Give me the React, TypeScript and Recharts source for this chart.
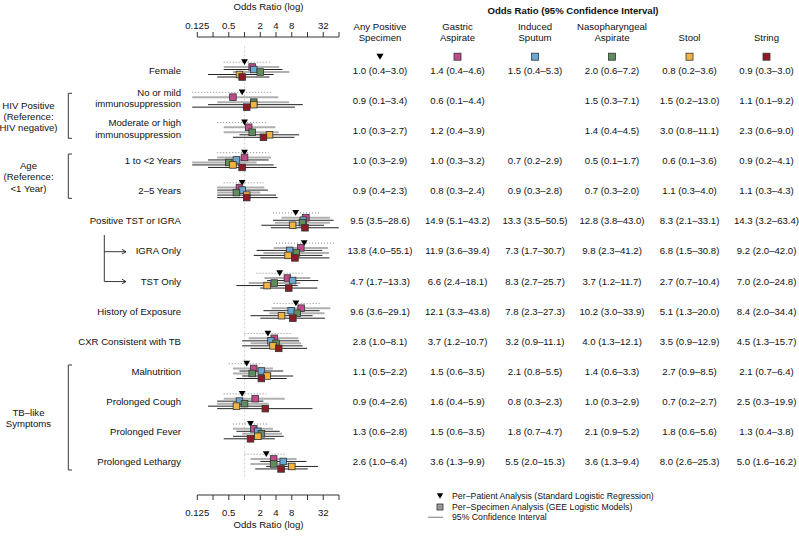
import React from 'react';
import { ComposedChart, Scatter, XAxis, YAxis, ErrorBar, ReferenceLine } from 'recharts';

type CI = [number, number, number] | null;

const rowLabels: string[][] = [
  ['Female'],
  ['No or mild', 'immunosuppression'],
  ['Moderate or high', 'immunosuppression'],
  ['1 to <2 Years'],
  ['2–5 Years'],
  ['Positive TST or IGRA'],
  ['IGRA Only'],
  ['TST Only'],
  ['History of Exposure'],
  ['CXR Consistent with TB'],
  ['Malnutrition'],
  ['Prolonged Cough'],
  ['Prolonged Fever'],
  ['Prolonged Lethargy'],
];

// odds ratio, lower 95% CI, upper 95% CI
const anyPositive: CI[] = [
  [1.0, 0.4, 3.0], [0.9, 0.1, 3.4], [1.0, 0.3, 2.7], [1.0, 0.3, 2.9], [0.9, 0.4, 2.3],
  [9.5, 3.5, 28.6], [13.8, 4.0, 55.1], [4.7, 1.7, 13.3], [9.6, 3.6, 29.1], [2.8, 1.0, 8.1],
  [1.1, 0.5, 2.2], [0.9, 0.4, 2.6], [1.3, 0.6, 2.8], [2.6, 1.0, 6.4],
];
const gastricAspirate: CI[] = [
  [1.4, 0.4, 4.6], [0.6, 0.1, 4.4], [1.2, 0.4, 3.9], [1.0, 0.3, 3.2], [0.8, 0.3, 2.4],
  [14.9, 5.1, 43.2], [11.9, 3.6, 39.4], [6.6, 2.4, 18.1], [12.1, 3.3, 43.8], [3.7, 1.2, 10.7],
  [1.5, 0.6, 3.5], [1.6, 0.4, 5.9], [1.5, 0.6, 3.5], [3.6, 1.3, 9.9],
];
const inducedSputum: CI[] = [
  [1.5, 0.4, 5.3], null, null, [0.7, 0.2, 2.9], [0.9, 0.3, 2.8],
  [13.3, 3.5, 50.5], [7.3, 1.7, 30.7], [8.3, 2.7, 25.7], [7.8, 2.3, 27.3], [3.2, 0.9, 11.1],
  [2.1, 0.8, 5.5], [0.8, 0.3, 2.3], [1.8, 0.7, 4.7], [5.5, 2.0, 15.3],
];
const nasopharyngealAspirate: CI[] = [
  [2.0, 0.6, 7.2], [1.5, 0.3, 7.1], [1.4, 0.4, 4.5], [0.5, 0.1, 1.7], [0.7, 0.3, 2.0],
  [12.8, 3.8, 43.0], [9.8, 2.3, 41.2], [3.7, 1.2, 11.7], [10.2, 3.0, 33.9], [4.0, 1.3, 12.1],
  [1.4, 0.6, 3.3], [1.0, 0.3, 2.9], [2.1, 0.9, 5.2], [3.6, 1.3, 9.4],
];
const stool: CI[] = [
  [0.8, 0.2, 3.6], [1.5, 0.2, 13.0], [3.0, 0.8, 11.1], [0.6, 0.1, 3.6], [1.1, 0.3, 4.0],
  [8.3, 2.1, 33.1], [6.8, 1.5, 30.8], [2.7, 0.7, 10.4], [5.1, 1.3, 20.0], [3.5, 0.9, 12.9],
  [2.7, 0.9, 8.5], [0.7, 0.2, 2.7], [1.8, 0.6, 5.6], [8.0, 2.6, 25.3],
];
const stringTest: CI[] = [
  [0.9, 0.3, 3.0], [1.1, 0.1, 9.2], [2.3, 0.6, 9.0], [0.9, 0.2, 4.1], [1.1, 0.3, 4.3],
  [14.3, 3.2, 63.4], [9.2, 2.0, 42.0], [7.0, 2.0, 24.8], [8.4, 2.0, 34.4], [4.5, 1.3, 15.7],
  [2.1, 0.7, 6.4], [2.5, 0.3, 19.9], [1.3, 0.4, 3.8], [5.0, 1.6, 16.2],
];

const columnHeaders: string[][] = [
  ['Any Positive', 'Specimen'],
  ['Gastric', 'Aspirate'],
  ['Induced', 'Sputum'],
  ['Nasopharyngeal', 'Aspirate'],
  ['', 'Stool'],
  ['', 'String'],
];

const xTicks = [0.125, 0.25, 0.5, 1, 2, 4, 8, 16, 32, 64];
const xTickLabels: Record<number, string> = { 0.125: '0.125', 0.5: '0.5', 2: '2', 4: '4', 8: '8', 32: '32' };

const legendLabels = [
  'Per−Patient Analysis (Standard Logistic Regression)',
  'Per−Specimen Analysis (GEE Logistic Models)',
  '95% Confidence Interval',
];

// ---- layout / style ----
const W = 799;
const H = 537;
const FONT = '"Liberation Sans", Arial, Helvetica, sans-serif';
const FS = 9.6;
const PLOT_LEFT = 197.3;
const PLOT_RIGHT = 339;
const PLOT_TOP = 37;
const PLOT_BOTTOM = 495;
const ROW0 = 70;
const ROW_PX = 30.15;
const Y0 = -(ROW0 - PLOT_TOP) / ROW_PX;
const Y1 = Y0 + (PLOT_BOTTOM - PLOT_TOP) / ROW_PX;
const COL_X = [380, 457.5, 535, 612, 689.5, 766.5];
const LABEL_RIGHT = 181;

type SeriesDef = {
  name: string;
  data: CI[];
  offsetPx: number;
  color: string;
  line: string;
  lineWidth: number;
  dash?: string;
  tri?: boolean;
};

const SERIES: SeriesDef[] = [
  { name: 'any', data: anyPositive, offsetPx: -7.8, color: '#000', line: '#888', lineWidth: 1, dash: '1 2', tri: true },
  { name: 'ga', data: gastricAspirate, offsetPx: -3, color: '#c24a8b', line: '#b0b0b0', lineWidth: 2 },
  { name: 'is', data: inducedSputum, offsetPx: -0.5, color: '#6aa7d2', line: '#222', lineWidth: 1 },
  { name: 'npa', data: nasopharyngealAspirate, offsetPx: 2, color: '#5f8e5c', line: '#b0b0b0', lineWidth: 2 },
  { name: 'st', data: stool, offsetPx: 4.5, color: '#f2b441', line: '#222', lineWidth: 1 },
  { name: 'str', data: stringTest, offsetPx: 7, color: '#8e1b26', line: '#222', lineWidth: 1 },
];

const fmt = (c: [number, number, number]) =>
  `${c[0].toFixed(1)} (${c[1].toFixed(1)}–${c[2].toFixed(1)})`;

const seriesPoints = (s: SeriesDef) =>
  s.data
    .map((c, i) =>
      c ? { x: c[0], y: i + s.offsetPx / ROW_PX, err: [c[0] - c[1], c[2] - c[0]] } : null
    )
    .filter(Boolean) as { x: number; y: number; err: number[] }[];

const tablePoints = (s: SeriesDef) =>
  s.data
    .map((c, i) => (c ? { x: 0.5, y: i, text: fmt(c) } : null))
    .filter(Boolean) as { x: number; y: number; text: string }[];

const labelPoints = rowLabels.map((l, i) => ({ x: 0.5, y: i, lines: l }));

const Tri = ({ cx, cy, size = 3.4 }: any) => (
  <path d={`M${cx - size},${cy - size * 0.85} L${cx + size},${cy - size * 0.85} L${cx},${cy + size * 0.85} Z`} fill="#000" />
);
const Sq = ({ cx, cy, fill, s = 3.3 }: any) => (
  <rect x={cx - s} y={cy - s} width={2 * s} height={2 * s} fill={fill} stroke="#333" strokeWidth={0.8} />
);

const Empty = () => <g />;

const AxisTick = (props: any) => {
  const { x, y, payload } = props;
  const label = xTickLabels[payload.value];
  if (!label) return <g />;
  return (
    <text x={x} y={y} textAnchor="middle" fontSize={FS} fontFamily={FONT} fill="#111" dominantBaseline="central">
      {label}
    </text>
  );
};

const StaticLayer = () => {
  const tc = { fontFamily: FONT, fill: '#111' };
  const arrow = (y: number) => (
    <g>
      <line x1={104.3} y1={y} x2={126} y2={y} stroke="#222" strokeWidth={0.9} />
      <polyline points={`${122},${y - 2.3} ${126},${y} ${122},${y + 2.3}`} fill="none" stroke="#222" strokeWidth={0.9} />
    </g>
  );
  const bracket = (y1: number, y2: number) => (
    <polyline points={`72,${y1} 68.3,${y1} 68.3,${y2} 72,${y2}`} fill="none" stroke="#222" strokeWidth={0.9} />
  );
  const rowY = (i: number) => ROW0 + i * ROW_PX;
  return (
    <svg width={W} height={H} style={{ position: 'absolute', left: 0, top: 0, pointerEvents: 'none' }}>
      <text x={268.5} y={6} textAnchor="middle" fontSize={FS} dominantBaseline="central" {...tc}>Odds Ratio (log)</text>
      <text x={268.5} y={524} textAnchor="middle" fontSize={FS} dominantBaseline="central" {...tc}>Odds Ratio (log)</text>
      <text x={573} y={10} textAnchor="middle" fontSize={FS} fontWeight="bold" dominantBaseline="central" {...tc}>
        Odds Ratio (95% Confidence Interval)
      </text>
      {columnHeaders.map((h, i) => (
        <g key={i}>
          <text x={COL_X[i]} y={26} textAnchor="middle" fontSize={FS} dominantBaseline="central" {...tc}>{h[0]}</text>
          <text x={COL_X[i]} y={37.5} textAnchor="middle" fontSize={FS} dominantBaseline="central" {...tc}>{h[1]}</text>
          {SERIES[i].tri ? (
            <Tri cx={COL_X[i]} cy={56.7} size={3.6} />
          ) : (
            <Sq cx={COL_X[i]} cy={56.7} fill={SERIES[i].color} s={3.5} />
          )}
        </g>
      ))}
      {['HIV Positive', '(Reference:', 'HIV negative)'].map((t, i) => (
        <text key={'h' + i} x={28.5} y={105 + i * 11.2} textAnchor="middle" fontSize={FS} dominantBaseline="central" {...tc}>{t}</text>
      ))}
      {['Age', '(Reference:', '<1 Year)'].map((t, i) => (
        <text key={'a' + i} x={28.5} y={165 + i * 11.7} textAnchor="middle" fontSize={FS} dominantBaseline="central" {...tc}>{t}</text>
      ))}
      {['TB–like', 'Symptoms'].map((t, i) => (
        <text key={'t' + i} x={28.5} y={412 + i * 11.2} textAnchor="middle" fontSize={FS} dominantBaseline="central" {...tc}>{t}</text>
      ))}
      {bracket(93.3, 138.3)}
      {bracket(154, 198.3)}
      {bracket(365, 470)}
      <line x1={104.3} y1={235} x2={104.3} y2={rowY(7) + 0.5} stroke="#222" strokeWidth={0.9} />
      {arrow(rowY(6) + 0.8)}
      {arrow(rowY(7) + 0.5)}
      <Tri cx={440} cy={496} size={3.2} />
      <Sq cx={440} cy={507} fill="#9a9a9a" s={3} />
      <line x1={428} y1={517.3} x2={443} y2={517.3} stroke="#999" strokeWidth={1.3} />
      {legendLabels.map((t, i) => (
        <text key={'l' + i} x={452} y={496 + i * 10.6} fontSize={8.7} dominantBaseline="central" {...tc}>{t}</text>
      ))}
    </svg>
  );
};

export default function App() {
  return (
    <div style={{ position: 'absolute', left: 0, top: 0, width: W, height: H, background: '#fff', overflow: 'hidden' }}>
      <ComposedChart
        width={W}
        height={H}
        margin={{ top: PLOT_TOP - 20, right: W - PLOT_RIGHT, bottom: H - PLOT_BOTTOM - 20, left: PLOT_LEFT }}
      >
        <XAxis
          xAxisId="top"
          orientation="top"
          type="number"
          scale="log"
          domain={[0.125, 64]}
          allowDataOverflow
          ticks={xTicks}
          interval={0}
          height={20}
          tickSize={5}
          tickMargin={3}
          stroke="#333"
          tick={(p: any) => <AxisTick {...p} y={25} />}
          dataKey="x"
        />
        <XAxis
          xAxisId="bottom"
          orientation="bottom"
          type="number"
          scale="log"
          domain={[0.125, 64]}
          allowDataOverflow
          ticks={xTicks}
          interval={0}
          height={20}
          tickSize={5}
          tickMargin={3}
          stroke="#333"
          tick={(p: any) => <AxisTick {...p} y={512} />}
          dataKey="x"
        />
        <XAxis xAxisId="txt" type="number" domain={[0, 1]} hide dataKey="x" />
        <YAxis yAxisId="y" type="number" scale="linear" domain={[Y0, Y1]} reversed hide dataKey="y" />

        <ReferenceLine
          xAxisId="bottom"
          yAxisId="y"
          segment={[{ x: 1, y: -0.78 }, { x: 1, y: 13.5 }]}
          stroke="#c8c8c8"
          strokeDasharray="2 2"
          strokeWidth={0.8}
        />

        {SERIES.map((s) => (
          <Scatter
            key={'line-' + s.name}
            xAxisId="top"
            yAxisId="y"
            data={seriesPoints(s)}
            dataKey="x"
            shape={Empty}
            isAnimationActive={false}
          >
            <ErrorBar
              dataKey="err"
              direction="x"
              width={0}
              stroke={s.line}
              strokeWidth={s.lineWidth}
              strokeDasharray={s.dash}
              isAnimationActive={false}
            />
          </Scatter>
        ))}
        {SERIES.map((s) => (
          <Scatter
            key={'pt-' + s.name}
            xAxisId="top"
            yAxisId="y"
            data={seriesPoints(s)}
            dataKey="x"
            isAnimationActive={false}
            shape={(p: any) => (s.tri ? <Tri cx={p.cx} cy={p.cy} /> : <Sq cx={p.cx} cy={p.cy} fill={s.color} />)}
          />
        ))}

        <Scatter
          xAxisId="txt"
          yAxisId="y"
          data={labelPoints}
          dataKey="x"
          isAnimationActive={false}
          shape={(p: any) => {
            const lines: string[] = p.payload.lines;
            if (lines.length === 1) {
              return (
                <text x={LABEL_RIGHT} y={p.cy} textAnchor="end" fontSize={FS} fontFamily={FONT} fill="#111" dominantBaseline="central">
                  {lines[0]}
                </text>
              );
            }
            return (
              <g>
                <text x={LABEL_RIGHT} y={p.cy - 7.9} textAnchor="end" fontSize={FS} fontFamily={FONT} fill="#111" dominantBaseline="central">
                  {lines[0]}
                </text>
                <text x={LABEL_RIGHT} y={p.cy + 3.8} textAnchor="end" fontSize={FS} fontFamily={FONT} fill="#111" dominantBaseline="central">
                  {lines[1]}
                </text>
              </g>
            );
          }}
        />
        {SERIES.map((s, ci) => (
          <Scatter
            key={'tbl-' + s.name}
            xAxisId="txt"
            yAxisId="y"
            data={tablePoints(s)}
            dataKey="x"
            isAnimationActive={false}
            shape={(p: any) => (
              <text x={COL_X[ci]} y={p.cy} textAnchor="middle" fontSize={FS} fontFamily={FONT} fill="#111" dominantBaseline="central">
                {p.payload.text}
              </text>
            )}
          />
        ))}
      </ComposedChart>
      <StaticLayer />
    </div>
  );
}
